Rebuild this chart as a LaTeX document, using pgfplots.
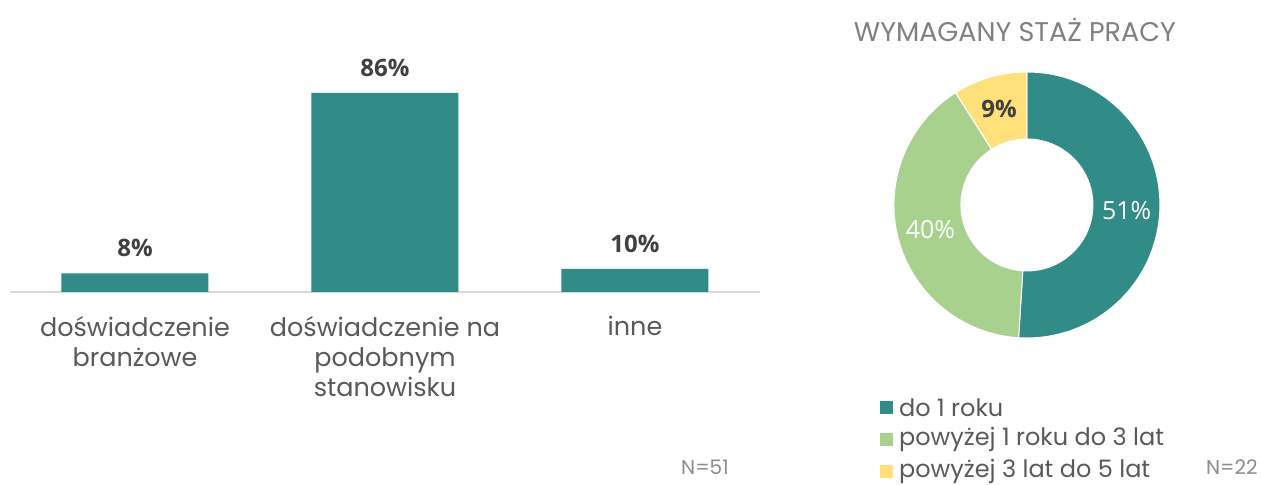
\documentclass[border=0pt]{standalone}
\usepackage{pgfplots}
\pgfplotsset{compat=1.18}
\usepackage{fontspec}
\setmainfont{Poppins}
\newfontfamily\numfont{Open Sans}
\definecolor{teal1}{HTML}{318B87}
\definecolor{green1}{HTML}{A9D18E}
\definecolor{yellow1}{HTML}{FFE07A}
\definecolor{txt}{HTML}{595959}
\definecolor{lbl}{HTML}{404040}
\definecolor{ngray}{HTML}{8C8C8C}
\begin{document}
\begin{tikzpicture}[x=1pt,y=1pt]
\path (0,0) rectangle (1261,485);
% ---------- bar chart ----------
\begin{axis}[
  at={(10pt,193pt)}, anchor=south west,
  scale only axis, width=750pt, height=231.4pt,
  xmin=-0.5, xmax=2.5, ymin=0, ymax=100,
  ybar, bar width=147pt,
  axis x line=bottom, hide y axis,
  x axis line style={-, draw=black!15, line width=1.5pt},
  xtick={0,1,2},
  xticklabels={{doświadczenie\\branżowe},{doświadczenie na\\podobnym\\stanowisku},{inne}},
  major tick length=0pt,
  xticklabel style={font=\fontsize{25.5}{30}\selectfont, text=txt, align=center, anchor=north, yshift=-21pt},
  nodes near coords={\numfont\bfseries\pgfmathprintnumber[assume math mode=true]{\pgfplotspointmeta}\%},
  every node near coord/.append style={font=\fontsize{24}{28}\selectfont, text=lbl, anchor=south, yshift=13pt},
]
\addplot[fill=teal1, draw=none] coordinates {(0,8) (1,86) (2,10)};
\end{axis}
\node[font=\fontsize{20}{22}\selectfont, text=ngray] at (705,18) {N=51};
% ---------- donut ----------
\node[font=\fontsize{27}{30}\selectfont, text=black!50] at (1015,455) {WYMAGANY STAŻ PRACY};
\begin{axis}[
  at={(1027pt,280pt)}, anchor=center,
  scale only axis, width=266pt, height=266pt,
  xmin=-1, xmax=1, ymin=-1, ymax=1, hide axis, clip=false,
]
% values: 51, 40, 9 (per cent), clockwise from the top
\fill[teal1, draw=white, line width=1pt] (axis cs:{cos(90)},{sin(90)}) arc[start angle=90, end angle={90-51*3.6}, radius=133pt]
  -- (axis cs:{0.496*cos(90-51*3.6)},{0.496*sin(90-51*3.6)}) arc[start angle={90-51*3.6}, end angle=90, radius=66pt] -- cycle;
\fill[green1, draw=white, line width=1pt] (axis cs:{cos(90-51*3.6)},{sin(90-51*3.6)}) arc[start angle={90-51*3.6}, end angle={90-91*3.6}, radius=133pt]
  -- (axis cs:{0.496*cos(90-91*3.6)},{0.496*sin(90-91*3.6)}) arc[start angle={90-91*3.6}, end angle={90-51*3.6}, radius=66pt] -- cycle;
\fill[yellow1, draw=white, line width=1pt] (axis cs:{cos(90-91*3.6)},{sin(90-91*3.6)}) arc[start angle={90-91*3.6}, end angle={90-100*3.6}, radius=133pt]
  -- (axis cs:{0.496*cos(90-100*3.6)},{0.496*sin(90-100*3.6)}) arc[start angle={90-100*3.6}, end angle={90-91*3.6}, radius=66pt] -- cycle;
\node[font=\numfont\fontsize{25}{28}\selectfont, text=white] at (axis cs:{0.75*cos(90-25.5*3.6)},{0.75*sin(90-25.5*3.6)-0.02}) {51\%};
\node[font=\numfont\fontsize{25}{28}\selectfont, text=white] at (axis cs:{0.75*cos(90-71*3.6)},{0.75*sin(90-71*3.6)}) {40\%};
\node[font=\numfont\bfseries\fontsize{24}{28}\selectfont, text=lbl] at (axis cs:{0.75*cos(90-95.5*3.6)},{0.75*sin(90-95.5*3.6)}) {9\%};
\end{axis}
% legend
\fill[teal1] (880,71) rectangle (893,84);
\fill[green1] (880,39) rectangle (893,52);
\fill[yellow1] (880,7) rectangle (893,20);
\node[anchor=west, font=\fontsize{24}{28}\selectfont, text=txt, inner sep=0pt] at (899,77) {do 1 roku};
\node[anchor=west, font=\fontsize{24}{28}\selectfont, text=txt, inner sep=0pt] at (899,45) {powyżej 1 roku do 3 lat};
\node[anchor=west, font=\fontsize{24}{28}\selectfont, text=txt, inner sep=0pt] at (899,13) {powyżej 3 lat do 5 lat};
\node[font=\fontsize{20}{22}\selectfont, text=ngray] at (1232,18) {N=22};
\end{tikzpicture}
\end{document}
